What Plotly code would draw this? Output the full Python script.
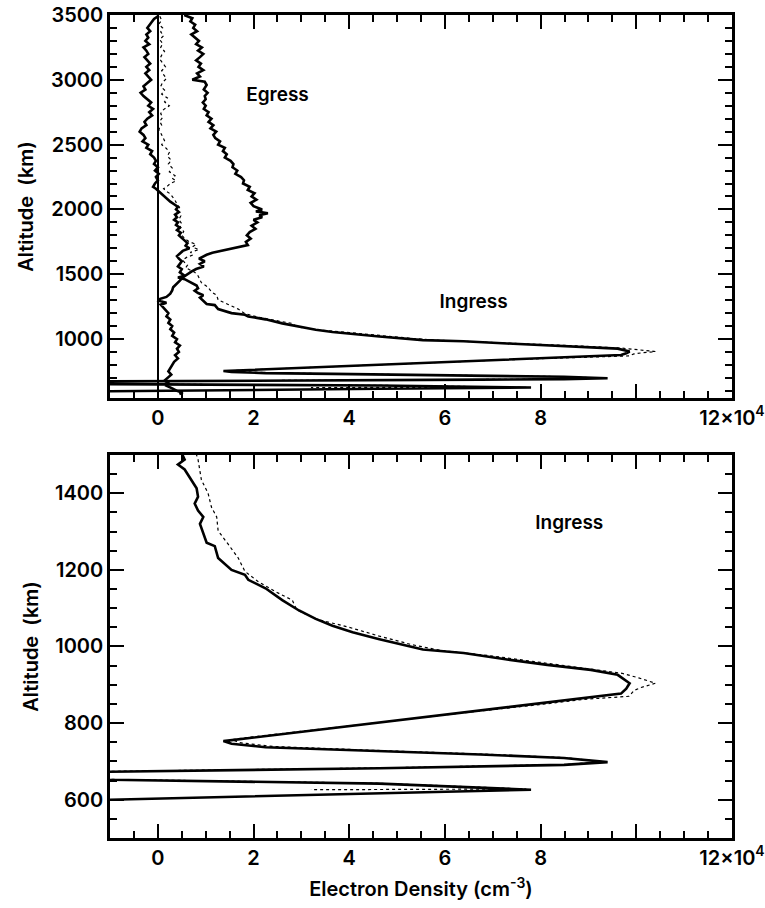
import plotly.graph_objects as go

# Electron density profiles: altitude in km, density in units of 1e4 cm^-3

# Egress profile (thick line, upper panel only)
egress_alt = [3500, 3475, 3450, 3425, 3400, 3375, 3350, 3325, 3300, 3275, 3250, 3225, 3200, 3175,
              3150, 3125, 3100, 3075, 3050, 3025, 3000, 2985, 2960, 2925, 2900, 2875, 2850, 2825,
              2800, 2775, 2750, 2725, 2700, 2675, 2650, 2625, 2600, 2575, 2550, 2525, 2500, 2475,
              2450, 2425, 2400, 2375, 2350, 2325, 2300, 2275, 2250, 2225, 2200, 2175, 2150, 2125,
              2100, 2075, 2050, 2025, 2000, 1985, 1970, 1955, 1940, 1920, 1900, 1875, 1850, 1825,
              1800, 1775, 1750, 1725, 1710, 1695, 1680, 1665, 1650, 1635, 1620, 1600, 1580, 1560,
              1540, 1520, 1500, 1475, 1450, 1425, 1400, 1375, 1350, 1325, 1310, 1295, 1280, 1265,
              1250, 1225, 1200, 1175, 1150, 1125, 1100, 1075, 1050, 1025, 1000, 975, 950, 925,
              900, 875, 850, 825, 800, 775, 750, 725, 700, 680, 660, 640, 620, 600, 585, 575]
egress_ne = [0.55, 0.72, 0.68, 0.78, 0.74, 0.82, 0.70, 0.78, 0.86, 0.80, 0.92, 0.84, 0.95, 0.88,
             0.80, 0.90, 0.85, 0.95, 0.82, 0.88, 0.72, 0.98, 1.02, 0.96, 1.04, 0.98, 1.00, 0.94,
             1.00, 0.96, 1.06, 1.02, 1.12, 1.06, 1.16, 1.10, 1.22, 1.16, 1.20, 1.30, 1.26, 1.40,
             1.36, 1.44, 1.40, 1.52, 1.58, 1.56, 1.66, 1.62, 1.74, 1.80, 1.78, 1.92, 1.88, 2.02,
             1.96, 2.06, 1.94, 2.00, 2.18, 2.05, 2.30, 2.12, 2.18, 2.00, 2.08, 1.96, 2.04, 1.92,
             1.86, 1.94, 1.84, 1.88, 1.70, 1.50, 1.30, 1.14, 1.02, 0.94, 0.86, 0.98, 0.88, 0.96,
             0.80, 0.70, 0.62, 0.52, 0.46, 0.40, 0.32, 0.30, 0.26, 0.18, 0.05, 0.02, 0.18, 0.06,
             0.10, 0.16, 0.22, 0.18, 0.26, 0.22, 0.30, 0.26, 0.34, 0.30, 0.40, 0.36, 0.46, 0.40,
             0.44, 0.36, 0.42, 0.34, 0.30, 0.26, 0.22, 0.28, 0.20, 0.14, 0.22, 0.18, 0.30, 0.40,
             0.52, 0.45]

# Ingress profile, first reduction (thick line)
ingress_alt = [3490, 3470, 3450, 3425, 3400, 3375, 3350, 3325, 3300, 3275, 3250, 3225, 3200, 3175,
               3150, 3125, 3100, 3075, 3050, 3025, 3000, 2975, 2950, 2925, 2900, 2875, 2850, 2825,
               2800, 2775, 2750, 2725, 2700, 2675, 2650, 2625, 2600, 2575, 2550, 2525, 2500, 2475,
               2450, 2425, 2400, 2375, 2350, 2325, 2300, 2275, 2250, 2225, 2200, 2175, 2160, 2140,
               2120, 2100, 2080, 2060, 2040, 2020, 2000, 1980, 1960, 1940, 1920, 1900, 1880, 1860,
               1840, 1820, 1800, 1780, 1760, 1740, 1720, 1700, 1680, 1660, 1640, 1620, 1600, 1580,
               1560, 1540, 1515, 1488, 1475, 1462, 1435, 1413, 1391, 1373, 1355, 1338, 1320, 1293,
               1271, 1262, 1231, 1200, 1187, 1174, 1152, 1121, 1094, 1072, 1054, 1037, 1019, 992,
               983, 966, 952, 939, 926, 904, 890, 877, 864, 851, 833, 824, 811, 802, 793, 780, 771,
               760, 756, 753, 746, 737, 731, 727, 718, 709, 698, 691, 687, 682, 673, 662, 652, 642,
               626, 616, 600, 594]
ingress_ne = [0.00, -0.08, -0.12, -0.18, -0.22, -0.16, -0.24, -0.20, -0.26, -0.18, -0.30, -0.24,
              -0.20, -0.28, -0.22, -0.16, -0.24, -0.18, -0.26, -0.20, -0.14, -0.22, -0.30, -0.26,
              -0.36, -0.30, -0.22, -0.14, -0.20, -0.10, -0.18, -0.12, -0.22, -0.28, -0.24, -0.34,
              -0.38, -0.30, -0.26, -0.32, -0.20, -0.24, -0.12, -0.16, -0.08, -0.04, -0.08, 0.00,
              -0.06, 0.02, -0.04, 0.00, -0.06, -0.10, -0.04, 0.02, 0.06, 0.12, 0.20, 0.26, 0.34,
              0.42, 0.38, 0.44, 0.36, 0.40, 0.34, 0.42, 0.38, 0.46, 0.40, 0.48, 0.44, 0.50, 0.56,
              0.62, 0.58, 0.66, 0.52, 0.46, 0.40, 0.44, 0.50, 0.46, 0.42, 0.50, 0.46, 0.56, 0.42,
              0.56, 0.70, 0.81, 0.84, 0.77, 0.84, 0.95, 0.88, 0.95, 1.02, 1.19, 1.26, 1.54, 1.82,
              1.89, 2.25, 2.60, 2.95, 3.30, 3.65, 4.07, 4.63, 5.54, 6.39, 7.30, 8.14, 9.05, 9.61,
              9.86, 9.79, 9.68, 8.80, 7.95, 6.80, 6.15, 5.25, 4.63, 4.02, 3.12, 2.52, 1.78, 1.48,
              1.37, 1.54, 2.25, 3.65, 4.63, 6.74, 8.49, 9.40, 8.49, 6.74, 4.63, -1.05, -2.60,
              -1.00, 4.63, 7.80, 4.63, -1.00, -2.00]

# Ingress profile, second reduction (thin dotted line)
ingress2_alt = [3490, 3460, 3430, 3400, 3370, 3340, 3310, 3280, 3250, 3220, 3190, 3160, 3130, 3100,
                3070, 3040, 3010, 2980, 2950, 2920, 2890, 2860, 2830, 2800, 2770, 2740, 2710, 2680,
                2650, 2620, 2590, 2560, 2530, 2500, 2470, 2440, 2410, 2380, 2350, 2320, 2290, 2260,
                2240, 2220, 2200, 2180, 2160, 2140, 2120, 2100, 2070, 2040, 2010, 1980, 1950, 1920,
                1890, 1860, 1830, 1800, 1770, 1750, 1730, 1710, 1690, 1670, 1650, 1630, 1610, 1590,
                1570, 1550, 1530, 1515, 1488, 1435, 1400, 1364, 1338, 1302, 1267, 1231, 1196, 1169,
                1143, 1121, 1096, 1072, 1050, 1027, 1005, 990, 975, 960, 945, 930, 918, 904, 893,
                885, 870, 862, 850, 835, 825, 812, 803, 794, 782, 772, 762, 757, 749, 739, 732, 728,
                719, 710, 699, 692, 688, 683, 674, 663, 653, 643, 628, 626]
ingress2_ne = [0.04, 0.08, 0.02, 0.10, 0.06, 0.12, 0.04, 0.10, 0.06, 0.14, 0.08, 0.04, 0.10, 0.16,
               0.08, 0.12, 0.18, 0.10, 0.06, 0.14, 0.08, 0.20, 0.14, 0.24, 0.12, 0.06, 0.10, 0.04,
               0.08, 0.02, 0.06, 0.10, 0.14, 0.08, 0.18, 0.24, 0.20, 0.28, 0.22, 0.30, 0.24, 0.36,
               0.30, 0.38, 0.26, 0.20, 0.12, 0.18, 0.26, 0.30, 0.36, 0.40, 0.46, 0.42, 0.48, 0.44,
               0.50, 0.46, 0.54, 0.50, 0.58, 0.66, 0.80, 0.72, 0.86, 0.68, 0.74, 0.60, 0.52, 0.56,
               0.62, 0.58, 0.68, 0.77, 0.84, 0.91, 1.05, 1.12, 1.23, 1.26, 1.47, 1.68, 1.82, 2.10,
               2.46, 2.81, 2.90, 3.30, 4.00, 4.63, 5.30, 5.90, 7.00, 7.90, 8.90, 9.70, 10.05, 10.40,
               10.10, 9.95, 9.85, 8.90, 8.10, 6.95, 6.25, 5.35, 4.70, 4.10, 3.20, 2.60, 1.85, 1.55,
               1.70, 2.40, 3.70, 4.70, 6.80, 8.50, 9.30, 8.50, 6.80, 4.70, -1.00, -2.50, -1.00,
               4.60, 7.70, 3.20]

# x tick labels: the 10 label is left blank, the 12 label carries the scale factor
x_label_alias = {"10": " ", "12": "12x10<sup>4</sup>"}

X_RANGE = [-1, 12]
TOP_Y_RANGE = [545, 3500]
BOTTOM_Y_RANGE = [500, 1500]

FONT = "Inter"
tick_font = dict(family=FONT, size=20, color="black", weight=600)
title_font = dict(family=FONT, size=20, color="black", weight=600)
note_font = dict(family=FONT, size=19, color="black", weight=600)

fig = go.Figure()

thick = dict(color="black", width=2.6)
thin = dict(color="black", width=1.2, dash="dot")

# upper panel: full altitude range
fig.add_trace(go.Scatter(x=egress_ne, y=egress_alt, mode="lines", line=thick, xaxis="x", yaxis="y"))
fig.add_trace(go.Scatter(x=ingress2_ne, y=ingress2_alt, mode="lines", line=thin, xaxis="x", yaxis="y"))
fig.add_trace(go.Scatter(x=ingress_ne, y=ingress_alt, mode="lines", line=thick, xaxis="x", yaxis="y"))

# lower panel: ingress close-up
fig.add_trace(go.Scatter(x=ingress2_ne, y=ingress2_alt, mode="lines", line=thin, xaxis="x2", yaxis="y2"))
fig.add_trace(go.Scatter(x=ingress_ne, y=ingress_alt, mode="lines", line=thick, xaxis="x2", yaxis="y2"))

# profile names written inside the panels
fig.add_trace(go.Scatter(x=[2.5, 6.6], y=[2870, 1278], mode="text", text=["Egress", "Ingress"],
                         textposition="middle center", textfont=note_font, xaxis="x", yaxis="y"))
fig.add_trace(go.Scatter(x=[8.6], y=[1319], mode="text", text=["Ingress"],
                         textposition="middle center", textfont=note_font, xaxis="x2", yaxis="y2"))

# empty traces that attach the tick-mark frame axes to each panel
fig.add_trace(go.Scatter(x=[], y=[], mode="lines", xaxis="x3", yaxis="y3", hoverinfo="skip"))
fig.add_trace(go.Scatter(x=[], y=[], mode="lines", xaxis="x4", yaxis="y4", hoverinfo="skip"))


def label_axis(**kw):
    """Axis carrying the frame line, tick labels and titles."""
    ax = dict(showline=True, linecolor="black", linewidth=2.5, mirror=True,
              ticks="", showgrid=False, zeroline=False, tickfont=tick_font)
    ax.update(kw)
    return ax


def tick_axis(minor_step, **kw):
    """Overlay axis drawing the inward major and minor tick marks on all four sides."""
    ax = dict(ticks="inside", ticklen=14, tickwidth=2, tickcolor="black",
              showline=True, linecolor="black", linewidth=2.5, mirror="allticks",
              showgrid=False, zeroline=False, showticklabels=False,
              minor=dict(ticks="inside", ticklen=7, dtick=minor_step))
    ax.update(kw)
    return ax


fig.update_layout(
    # upper x axis carries the zero-density reference line
    xaxis=label_axis(range=X_RANGE, tickmode="linear", tick0=0, dtick=2,
                     labelalias=x_label_alias, anchor="y", domain=[0, 1],
                     zeroline=True, zerolinecolor="black", zerolinewidth=1.5),
    xaxis2=label_axis(range=X_RANGE, tickmode="linear", tick0=0, dtick=2,
                      labelalias=x_label_alias, anchor="y2", domain=[0, 1],
                      title=dict(text="Electron Density (cm<sup>-3</sup>)", font=title_font,
                                 standoff=14)),
    yaxis=label_axis(range=TOP_Y_RANGE, tickmode="linear", tick0=0, dtick=500,
                     anchor="x", domain=[0.5346, 1.0],
                     title=dict(text="Altitude&nbsp;&nbsp;(km)", font=title_font, standoff=12)),
    yaxis2=label_axis(range=BOTTOM_Y_RANGE, tickmode="linear", tick0=0, dtick=200,
                      anchor="x2", domain=[0.0, 0.4654],
                      title=dict(text="Altitude&nbsp;&nbsp;(km)", font=title_font, standoff=12)),
    xaxis3=tick_axis(0.5, range=X_RANGE, overlaying="x", anchor="y3"),
    yaxis3=tick_axis(100, range=TOP_Y_RANGE, overlaying="y", anchor="x3"),
    xaxis4=tick_axis(0.5, range=X_RANGE, overlaying="x2", anchor="y4"),
    yaxis4=tick_axis(50, range=BOTTOM_Y_RANGE, overlaying="y2", anchor="x4"),
)

fig.update_layout(
    width=765, height=908, showlegend=False,
    margin=dict(l=110, r=33, t=15, b=70, autoexpand=False),
    template="none", plot_bgcolor="white", paper_bgcolor="white",
)

fig.write_html("out.html")
